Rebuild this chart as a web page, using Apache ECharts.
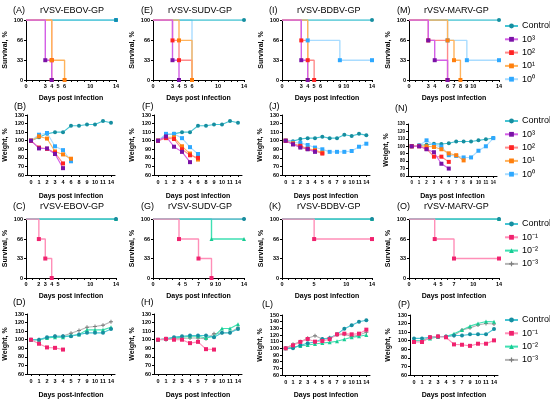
<!DOCTYPE html>
<html><head><meta charset="utf-8">
<script src="https://cdn.jsdelivr.net/npm/echarts@6/dist/echarts.min.js"></script>
<style>html,body{margin:0;padding:0;background:#fff}#c{width:550px;height:402px}</style>
</head><body><div id="c"></div>
<script>
// ---------- names ----------
const namesHigh = ['Control','10³','10²','10¹','10⁰'];
const namesLow  = ['Control','10⁻¹','10⁻²','10⁻³'];

// ---------- survival: x tick labels ----------
const ticksA = [0,3,4,5,6,10,14];
const ticksE = [0,3,4,5,6,10,14];
const ticksI = [0,3,4,5,6,9,10,14];
const ticksM = [0,3,4,6,7,8,9,10,14];
const ticksC = [0,2,3,4,5,10,14];
const ticksG = [0,4,5,7,9,10,14];
const ticksK = [0,5,10,14];
const ticksO = [0,4,5,7,10,14];
const survY  = [0,33,66,100];

// ---------- survival data ([day, %] at each event) ----------
const survA_ctrl = [[0,100],[14,100]];
const survA_e3 = [[0,100],[3,33],[4,0]];
const survA_e2 = [[0,100],[4,33],[4,0]];
const survA_e1 = [[0,100],[4,33],[6,0]];
const survA_e0 = [[0,100],[14,100]];

const survE_ctrl = [[0,100],[14,100]];
const survE_e3 = [[0,100],[3,33],[4,0]];
const survE_e2 = [[0,100],[3,66],[4,33],[6,0]];
const survE_e1 = [[0,100],[4,66],[6,0]];
const survE_e0 = [[0,100],[6,0]];

const survI_ctrl = [[0,100],[14,100]];
const survI_e3 = [[0,100],[3,33],[4,0]];
const survI_e2 = [[0,100],[3,66],[4,33],[5,0]];
const survI_e1 = [[0,100],[4,0]];
const survI_e0 = [[0,100],[4,66],[9,33],[14,33]];

const survM_ctrl = [[0,100],[14,100]];
const survM_e3 = [[0,100],[3,66],[4,33],[6,0]];
const survM_e2 = [[0,100],[3,66],[6,0]];
const survM_e1 = [[0,100],[6,66],[7,33],[8,0]];
const survM_e0 = [[0,100],[6,66],[9,33],[14,33]];

const survC_ctrl = [[0,100],[14,100]];
const survC_m1 = [[0,100],[2,66],[3,33],[4,0]];
const survC_m2 = [[0,100],[14,100]];
const survC_m3 = [[0,100],[14,100]];

const survG_ctrl = [[0,100],[14,100]];
const survG_m1 = [[0,100],[4,66],[7,33],[9,0]];
const survG_m2 = [[0,100],[9,66],[14,66]];
const survG_m3 = [[0,100],[14,100]];

const survK_ctrl = [[0,100],[14,100]];
const survK_m1 = [[0,100],[5,66],[14,66]];
const survK_m2 = [[0,100],[14,100]];
const survK_m3 = [[0,100],[14,100]];

const survO_ctrl = [[0,100],[14,100]];
const survO_m1 = [[0,100],[4,66],[7,33],[14,33]];
const survO_m2 = [[0,100],[14,100]];
const survO_m3 = [[0,100],[14,100]];

// ---------- weight: day categories ----------
const daysB = ['0','1','2','3','4','6','8','9','10','11','14'];
const daysF = ['0','1','2','3','4','6','8','9','10','11','14'];
const daysJ = ['0','1','2','3','4','5','6','7','9','10','11','14'];
const daysN = ['0','1','2','3','4','6','7','8','9','10','11','14'];
const daysD = ['0','1','2','3','4','5','7','9','10','11','14'];
const daysH = ['0','1','2','3','4','5','7','9','10','11','14'];
const daysL = ['0','1','2','3','4','5','6','7','9','10','11','14'];
const daysP = ['0','1','2','3','4','5','7','9','10','11','14'];

// ---------- weight data (%) ----------
const wB_ctrl = [100,104,108,110,110,117.5,117.5,119,119,123,121];
const wB_e3 = [100,91,91,84.5,68];
const wB_e2 = [100,92,90.5,86,73.5];
const wB_e1 = [100,105,102.5,87.5,84,79];
const wB_e0 = [100,107,109,93.5,89,76];

const wF_ctrl = [100,107,108,110,110,117.5,117.5,119,119,123,121];
const wF_e3 = [100,105,93,87,75];
const wF_e2 = [100,103,102,90,83,80];
const wF_e1 = [100,104,104,93.5,85,78];
const wF_e0 = [100,108,108,103,92.5,84.5];

const wJ_ctrl = [100,99.5,102,103,103,104.7,103,103,107,105.5,108,106.5];
const wJ_e3 = [100,95.7,92,90,87];
const wJ_e2 = [100,96,94,90.5,88,85];
const wJ_e1 = [100,97,93,90.5,89,86];
const wJ_e0 = [100,98,97.5,95,92,90,87,87,87,88,93,96.5];

const wN_ctrl = [100,101.5,102,103.5,103,104,106.5,106.5,106.5,108,109.5,111];
const wN_e3 = [100,100,96,92,76.5,70];
const wN_e2 = [100,100,96.5,86,86,79];
const wN_e1 = [100,100.5,100,99,96,90.5,88,81];
const wN_e0 = [100,101,108,101.5,99.5,88,87,85,85,94,100,111];

const wD_ctrl = [100,100,103,104,104,104,106,108,108,108,112.6];
const wD_m1 = [100,95.3,91,90.5,88.5];
const wD_m2 = [100,100,102,103,103,105,106,111.5,111.5,111.5,114.6];
const wD_m3 = [100,100,102,104,104.3,107.5,110.7,114.6,115.4,117,121];

const wH_ctrl = [100,101,103,104,105,105,105,103,108,108,112.5];
const wH_m1 = [100,101,100,100,96,97.5,89,88.5];
const wH_m2 = [100,101,102,103,104,104,102,104,113,113,118];
const wH_m3 = [100,100,101,101.5,102,102,101,107,108,108.5,114];

const wL_ctrl = [100,100,104.5,107.6,109.6,114,115,121,129.5,134.5,140,142];
const wL_m1 = [100,104.5,109.6,114,110,111,113.7,121,122,121,122,128];
const wL_m2 = [100,102,103.5,105,106.6,108,109,110.6,113.7,116.7,118,120];
const wL_m3 = [100,106,110,115,118.8,114,116,120,121,117.8,120,124];

const wP_ctrl = [102.7,102.7,104,105,105,106,106,107.4,107.4,107.4,113.6];
const wP_m1 = [98.5,98.5,104,105,104,95.7,95.3,94,96.5,96.5,100.4];
const wP_m2 = [100,100,102.7,104.3,105,108,112.5,117,120,122.5,122];
const wP_m3 = [100,100,104,105,105,106,112.5,115,118.3,120,119.5];

// ---------- styling ----------
const FONT = '"Liberation Sans", Arial, Helvetica, sans-serif';
const PLUS = 'path://M3,0H5V3H8V5H5V8H3V5H0V3H3Z';
const STY = {
  'Control': {line:'#45c3d2', mark:'#168ea0', sym:'circle'},
  '10³': {line:'#d45fe6', mark:'#7a12a6', sym:'rect'},
  '10²': {line:'#ff8a8a', mark:'#ff2424', sym:'rect'},
  '10¹': {line:'#ffb35c', mark:'#ff7f0e', sym:'rect'},
  '10⁰': {line:'#a9dcff', mark:'#2ea8ff', sym:'rect'},
  '10⁻¹': {line:'#ff8fb8', mark:'#f0226e', sym:'rect'},
  '10⁻²': {line:'#3fe0b2', mark:'#18cc93', sym:'triangle'},
  '10⁻³': {line:'#b4b4b4', mark:'#7d7d7d', sym:PLUS}
};

const grids=[], xAxes=[], yAxes=[], series=[], titles=[];
const axLine = {show:true, onZero:false, lineStyle:{color:'#000', width:1}};
const axTick = {show:true, length:2, lineStyle:{color:'#000', width:1}};

function makeSeries(i, name, data, isStep) {
  const s = STY[name];
  const d = isStep ? data.map((p,j)=> j===0 ? {value:p, symbol:'none'} : p) : data;
  series.push({
    type:'line', name:name, xAxisIndex:i, yAxisIndex:i, data:d,
    step: isStep ? 'end' : false,
    symbol: s.sym, symbolSize: 4,
    lineStyle:{color:s.line, width: isStep ? 1.4 : 1.1},
    itemStyle:{color:s.mark},
    emphasis:{disabled:true}, silent:true, animation:false
  });
}

function addSurv(box, ticks, list, lfs) {
  const i = grids.length;
  grids.push({left:box[0], top:box[1], width:box[2], height:box[3]});
  xAxes.push({gridIndex:i, type:'value', min:0, max:14, interval:1,
    name:'Days post infection', nameLocation:'middle', nameGap:box[4],
    nameTextStyle:{fontFamily:FONT, fontWeight:'bold', fontSize:7, color:'#000'},
    axisLine:axLine, axisTick:axTick, splitLine:{show:false},
    axisLabel:{customValues:ticks, fontFamily:FONT, fontWeight:'bold', fontSize:lfs||5.5, color:'#000', margin:3}});
  yAxes.push({gridIndex:i, type:'value', min:0, max:100,
    name:'Survival, %', nameLocation:'middle', nameGap:17,
    nameTextStyle:{fontFamily:FONT, fontWeight:'bold', fontSize:7, color:'#000'},
    axisLine:axLine, axisTick:Object.assign({customValues:survY}, axTick), splitLine:{show:false},
    axisLabel:{customValues:survY, fontFamily:FONT, fontWeight:'bold', fontSize:lfs||5.5, color:'#000', margin:3}});
  list.forEach(([n,d])=>makeSeries(i,n,d,true));
}

function addWeight(box, days, list, ymax, lfs) {
  const i = grids.length;
  grids.push({left:box[0], top:box[1], width:box[2], height:box[3]});
  xAxes.push({gridIndex:i, type:'category', data:days, boundaryGap:true,
    name: box[5] || 'Days post infection', nameLocation:'middle', nameGap:box[4],
    nameTextStyle:{fontFamily:FONT, fontWeight:'bold', fontSize:7, color:'#000'},
    axisLine:axLine, axisTick:Object.assign({alignWithLabel:true}, axTick), splitLine:{show:false},
    axisLabel:{interval:0, fontFamily:FONT, fontWeight:'bold', fontSize:lfs||5.5, color:'#000', margin:4}});
  yAxes.push({gridIndex:i, type:'value', min:60, max:ymax, interval:10,
    name:'Weight, %', nameLocation:'middle', nameGap:18,
    nameTextStyle:{fontFamily:FONT, fontWeight:'bold', fontSize:7, color:'#000'},
    axisLine:axLine, axisTick:axTick, splitLine:{show:false},
    axisLabel:{fontFamily:FONT, fontWeight:'bold', fontSize:lfs||5.5, color:'#000', margin:3}});
  list.forEach(([n,d])=>makeSeries(i,n,d,false));
}

function addTitle(label, lx, ly, text, tx) {
  titles.push({text:label, left:lx, top:ly, padding:0,
    textStyle:{fontFamily:FONT, fontSize:9, fontWeight:'normal', color:'#000'}});
  if (text) titles.push({text:text, left:tx, top:ly, padding:0,
    textStyle:{fontFamily:FONT, fontSize:9, fontWeight:'normal', color:'#000'}});
}

const H = namesHigh, L = namesLow;
// Row 1 survival
addSurv([26,20,90,60,15], ticksA, [[H[4],survA_e0],[H[0],survA_ctrl],[H[2],survA_e2],[H[3],survA_e1],[H[1],survA_e3]]);
addSurv([153,20,91,60,15], ticksE, [[H[4],survE_e0],[H[0],survE_ctrl],[H[2],survE_e2],[H[3],survE_e1],[H[1],survE_e3]]);
addSurv([282,20,90,60,15], ticksI, [[H[4],survI_e0],[H[0],survI_ctrl],[H[2],survI_e2],[H[3],survI_e1],[H[1],survI_e3]]);
addSurv([409,20,90,60,15], ticksM, [[H[4],survM_e0],[H[0],survM_ctrl],[H[2],survM_e2],[H[3],survM_e1],[H[1],survM_e3]]);
// Row 2 weight
addWeight([27,115,88,60,18], daysB, [[H[0],wB_ctrl],[H[4],wB_e0],[H[3],wB_e1],[H[2],wB_e2],[H[1],wB_e3]], 130);
addWeight([154,115,88,60,18], daysF, [[H[0],wF_ctrl],[H[4],wF_e0],[H[3],wF_e1],[H[2],wF_e2],[H[1],wF_e3]], 130);
addWeight([282,115,88,60,18], daysJ, [[H[0],wJ_ctrl],[H[4],wJ_e0],[H[3],wJ_e1],[H[2],wJ_e2],[H[1],wJ_e3]], 130);
addWeight([408,124,89,52,17], daysN, [[H[0],wN_ctrl],[H[4],wN_e0],[H[3],wN_e1],[H[2],wN_e2],[H[1],wN_e3]], 130, 4.5);
// Row 3 survival
addSurv([26,219,90,59,15], ticksC, [[L[3],survC_m3],[L[2],survC_m2],[L[0],survC_ctrl],[L[1],survC_m1]]);
addSurv([153,219,91,59,15], ticksG, [[L[3],survG_m3],[L[2],survG_m2],[L[0],survG_ctrl],[L[1],survG_m1]]);
addSurv([282,219,90,59,15], ticksK, [[L[3],survK_m3],[L[2],survK_m2],[L[0],survK_ctrl],[L[1],survK_m1]]);
addSurv([409,219,90,59,15], ticksO, [[L[3],survO_m3],[L[2],survO_m2],[L[0],survO_ctrl],[L[1],survO_m1]]);
// Row 4 weight
addWeight([27,314,88,60,18,'Days post-infection'], daysD, [[L[3],wD_m3],[L[2],wD_m2],[L[0],wD_ctrl],[L[1],wD_m1]], 130);
addWeight([154,314,88,60,18], daysH, [[L[3],wH_m3],[L[2],wH_m2],[L[0],wH_ctrl],[L[1],wH_m1]], 130);
addWeight([282,315,88,60,17], daysL, [[L[3],wL_m3],[L[2],wL_m2],[L[0],wL_ctrl],[L[1],wL_m1]], 150);
addWeight([410,315,88,60,17], daysP, [[L[3],wP_m3],[L[2],wP_m2],[L[0],wP_ctrl],[L[1],wP_m1]], 130);

// titles
addTitle('(A)', 13, 6, 'rVSV-EBOV-GP', 40);
addTitle('(E)', 141, 6, 'rVSV-SUDV-GP', 168);
addTitle('(I)', 269, 6, 'rVSV-BDBV-GP', 297);
addTitle('(M)', 397, 6, 'rVSV-MARV-GP', 424);
addTitle('(B)', 14, 102);
addTitle('(F)', 142, 102);
addTitle('(J)', 269, 102);
addTitle('(N)', 395, 104);
addTitle('(C)', 13, 202, 'rVSV-EBOV-GP', 40);
addTitle('(G)', 141, 202, 'rVSV-SUDV-GP', 168);
addTitle('(K)', 269, 202, 'rVSV-BDBV-GP', 297);
addTitle('(O)', 397, 202, 'rVSV-MARV-GP', 424);
addTitle('(D)', 13, 298);
addTitle('(H)', 141, 298);
addTitle('(L)', 262, 300);
addTitle('(P)', 398, 300);

function legendAt(names, top) {
  return {data:names, left:504, top:top, orient:'vertical', itemWidth:13, itemHeight:6, itemGap:3.3,
    selectedMode:false, padding:0,
    textStyle:{fontFamily:FONT, fontSize:9, lineHeight:10, color:'#000', padding:[0,0,0,-1]}};
}

const chart = echarts.init(document.getElementById('c'), null, {renderer:'canvas'});
chart.setOption({
  animation:false,
  backgroundColor:'#fff',
  title:titles,
  legend:[legendAt(namesHigh,21), legendAt(namesHigh,116), legendAt(namesLow,219), legendAt(namesLow,315)],
  grid:grids, xAxis:xAxes, yAxis:yAxes, series:series
});
</script></body></html>
